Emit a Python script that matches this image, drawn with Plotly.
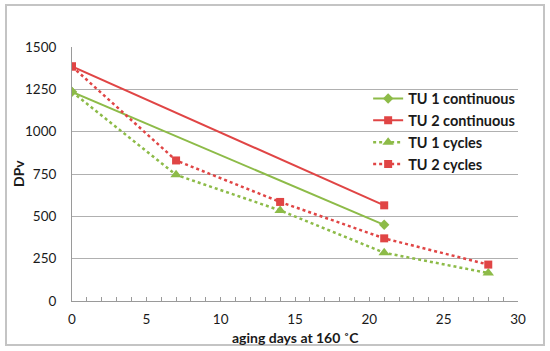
import plotly.graph_objects as go

days_cont = [0, 21]
tu1_cont = [1235, 450]
tu2_cont = [1385, 565]
days_cyc = [0, 7, 14, 21, 28]
tu1_cyc = [1235, 745, 535, 285, 165]
tu2_cyc = [1385, 830, 585, 370, 215]

GREEN = "#8DBB48"
RED = "#E04545"

fig = go.Figure()
fig.add_trace(go.Scatter(x=days_cont, y=tu1_cont, name="TU 1 continuous", mode="lines+markers",
                         line=dict(color=GREEN, width=2), marker=dict(symbol="diamond", size=8, color=GREEN)))
fig.add_trace(go.Scatter(x=days_cont, y=tu2_cont, name="TU 2 continuous", mode="lines+markers",
                         line=dict(color=RED, width=2), marker=dict(symbol="square", size=8, color=RED)))
fig.add_trace(go.Scatter(x=days_cyc, y=tu1_cyc, name="TU 1 cycles", mode="lines+markers",
                         line=dict(color=GREEN, width=2.5, dash="dot"), marker=dict(symbol="triangle-up", size=10, color=GREEN)))
fig.add_trace(go.Scatter(x=days_cyc, y=tu2_cyc, name="TU 2 cycles", mode="lines+markers",
                         line=dict(color=RED, width=2.5, dash="dot"), marker=dict(symbol="square", size=8, color=RED)))

PW, PH = 446, 254

fig.update_layout(
    width=550, height=351,
    margin=dict(l=72, r=32, t=47, b=50),
    paper_bgcolor="white", plot_bgcolor="white",
    font=dict(family="Lato, 'Open Sans', sans-serif", size=13.5, color="#1a1a1a"),
    showlegend=True,
    legend=dict(x=0.664, y=0.86, xanchor="left", yanchor="top", bgcolor="rgba(0,0,0,0)",
                font=dict(size=14.5, family="Lato, sans-serif", weight="bold"), tracegroupgap=0,
                itemwidth=30),
    xaxis=dict(range=[0, 30], dtick=5, showgrid=False, showline=True, linecolor="#9a9a9a", linewidth=1,
               ticks="inside", ticklen=4, tickcolor="#9a9a9a", automargin=False, ticklabelstandoff=6,
               minor=dict(dtick=1, ticks="inside", ticklen=4, tickcolor="#9a9a9a"),
               zeroline=False),
    yaxis=dict(range=[0, 1500], dtick=250, showgrid=True, gridcolor="#b0b0b0", gridwidth=1,
               showline=True, linecolor="#9a9a9a", zeroline=False, ticks="", ticklabelstandoff=12,
               automargin=False),
    annotations=[
        dict(text="<b>aging days at 160 ˚C</b>", xref="paper", yref="paper", x=0.5, y=(301 - 337) / PH,
             xanchor="center", yanchor="middle", showarrow=False, font=dict(size=14)),
        dict(text="<b>DPv</b>", xref="paper", yref="paper", x=(18 - 72) / PW, y=0.5, textangle=-90,
             xanchor="center", yanchor="middle", showarrow=False, font=dict(size=14)),
    ],
    shapes=[dict(type="rect", xref="paper", yref="paper",
                 x0=-66 / PW, x1=1 + 26 / PW, y0=-44 / PH, y1=1 + 42 / PH,
                 line=dict(color="#c4c4c4", width=2))],
)

fig.write_html("out.html", post_script="document.body.style.margin='0';",
               config={"displayModeBar": False})
